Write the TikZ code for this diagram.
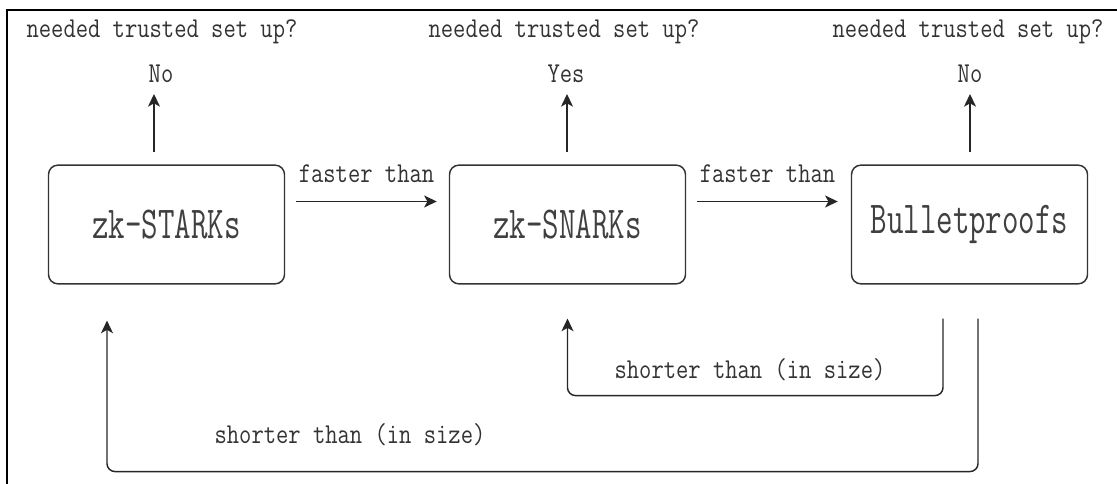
\documentclass[tikz,border=0pt]{standalone}
\usepackage{fontspec}
\usetikzlibrary{arrows.meta,calc}
% narrow, tall typewriter faces for captions and box titles
\newfontfamily\lblfont[FakeStretch=0.83]{Latin Modern Mono}
\newfontfamily\boxfont[FakeStretch=0.70]{Latin Modern Mono}
\begin{document}
\begin{tikzpicture}[x=0.75pt,y=-0.75pt,
  proof/.style={draw=black!80, line width=1.1pt, rounded corners=7pt,
    minimum width=177pt, minimum height=89pt, inner sep=0pt,
    font=\boxfont\fontsize{34.3pt}{36pt}\selectfont, text=black!75},
  caption/.style={font=\lblfont\fontsize{21.6pt}{23pt}\selectfont,
    text=black!80, inner sep=0pt},
  arr/.style={draw=black!85, line width=1.1pt,
    -{Stealth[length=9.5pt,width=9pt,inset=2.5pt]}},
  link/.style={arr, rounded corners=6pt},
  frameline/.style={draw=black, line width=1.5pt}]
\useasboundingbox (0,0) rectangle (1117,484);

% outer frame (only the top and left edges fall inside the picture)
\draw[frameline] (7,484) -- (7,10) -- (1117,10);

% the three proof systems
\node[proof] (stark)  at (166.5,224.5) {zk-STARKs};
\node[proof] (snark)  at (567.5,224.5) {zk-SNARKs};
\node[proof] (bullet) at (969.5,224.5) {Bulletproofs};

% trusted set-up questions and answers
\node[caption] (q1) at (162,32) {needed trusted set up?};
\node[caption] (q2) at (564,32) {needed trusted set up?};
\node[caption] (q3) at (968,32) {needed trusted set up?};
\node[caption] (a1) at (161,74) {No};
\node[caption] (a2) at (566,74) {Yes};
\node[caption] (a3) at (970,74) {No};

\coordinate (t1) at (154,94);
\coordinate (t2) at (567,94);
\coordinate (t3) at (970,94);
\draw[arr, shorten <=9.5pt] (stark.north -| t1) -- (t1);
\draw[arr, shorten <=9.5pt] (snark.north -| t2) -- (t2);
\draw[arr, shorten <=9.5pt] (bullet.north -| t3) -- (t3);

% speed comparison
\draw[arr] ($(stark.east)+(11,-23)$) --
  node[caption, anchor=center, yshift=21pt] (f1) {faster than}
  ($(snark.west)+(-12,-23)$);
\draw[arr] ($(snark.east)+(11,-23)$) --
  node[caption, anchor=center, yshift=21pt] (f2) {faster than}
  ($(bullet.west)+(-13,-23)$);

% size comparison
\draw[link] ($(bullet.south)+(-26.5,34)$) |- ($(snark.south)+(0,111)$)
  -- ($(snark.south)+(0,34)$);
\draw[link] ($(bullet.south)+(8.5,34)$) |- ($(stark.south)+(-59.5,187)$)
  -- ($(stark.south)+(-59.5,36)$);
\node[caption] (s1) at (750,370) {shorter than (in size)};
\node[caption] (s2) at (350,435) {shorter than (in size)};
\end{tikzpicture}
\end{document}
